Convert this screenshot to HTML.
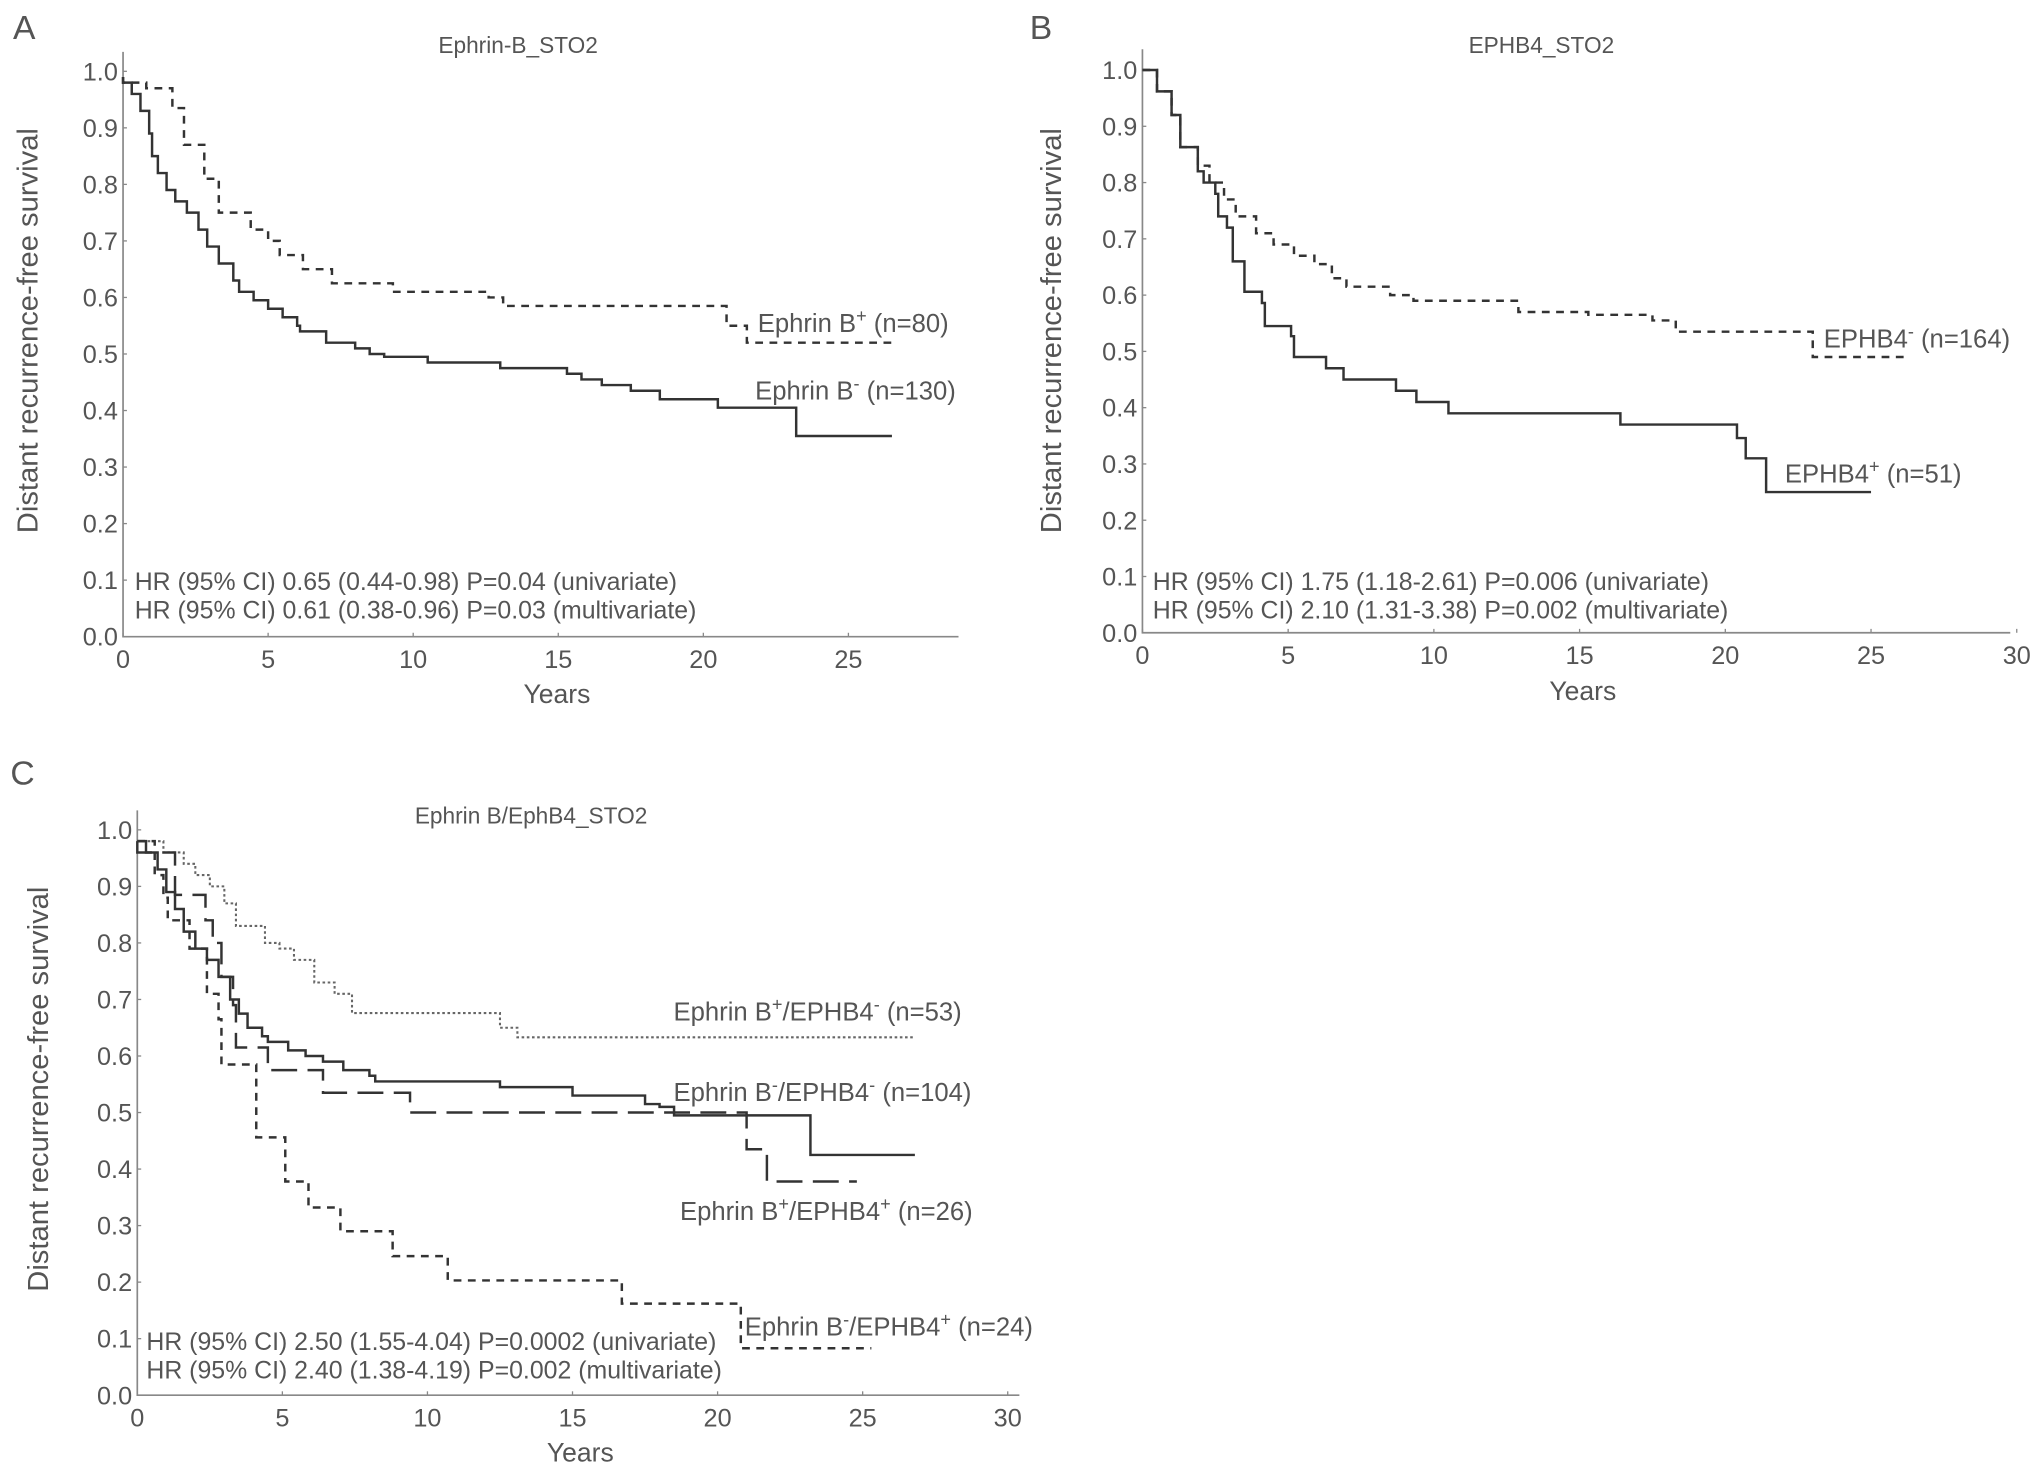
<!DOCTYPE html>
<html><head><meta charset="utf-8"><style>
html,body{margin:0;padding:0;background:#fff;}
svg{display:block;}
text{font-family:"Liberation Sans",Arial,sans-serif;fill:#555;}
</style></head><body>
<svg id="fig" width="2031" height="1473" viewBox="0 0 1568 1136" preserveAspectRatio="none" xmlns="http://www.w3.org/2000/svg"></svg>
<script>
// Each v[i] is the survival level on the interval ending at t[i]
// Panel A data
const aTimesPos=[0,0.8,1.7,2.1,2.8,3.3,4.4,5.0,5.4,6.2,7.2,9.3,12.6,13.1,20.8,21.5,26.5];
const aValsPos=[0.99,0.98,0.97,0.935,0.87,0.81,0.75,0.72,0.70,0.675,0.65,0.625,0.61,0.60,0.585,0.55,0.52];
const aTimesNeg=[0,0.3,0.6,0.9,1.0,1.2,1.5,1.8,2.2,2.6,2.9,3.3,3.8,4.0,4.5,5.0,5.5,6.0,6.1,7.0,8.0,8.5,9.0,10.5,13.0,15.3,15.8,16.5,17.5,18.5,20.5,23.2,26.5];
const aValsNeg=[0.99,0.98,0.96,0.93,0.89,0.85,0.82,0.79,0.77,0.75,0.72,0.69,0.66,0.63,0.61,0.595,0.58,0.565,0.55,0.54,0.52,0.51,0.50,0.495,0.485,0.475,0.465,0.455,0.445,0.435,0.42,0.405,0.355];
// Panel B data
const bTimesPos=[0,0.5,1.0,1.3,1.9,2.1,2.5,2.6,2.9,3.1,3.5,4.1,4.2,5.1,5.2,6.3,6.9,8.7,9.4,10.5,16.4,20.4,20.7,21.4,25.0];
const bValsPos=[1.0,1.0,0.962,0.92,0.863,0.82,0.80,0.78,0.74,0.72,0.66,0.606,0.586,0.545,0.527,0.49,0.47,0.45,0.43,0.41,0.39,0.37,0.346,0.31,0.25];
const bTimesNeg=[0,0.5,1.0,1.3,1.9,2.3,2.8,3.2,3.9,4.5,5.2,5.9,6.5,7.0,8.5,9.3,12.9,15.3,17.5,18.3,23.0,26.3];
const bValsNeg=[1.0,1.0,0.962,0.92,0.863,0.83,0.80,0.77,0.74,0.71,0.69,0.67,0.655,0.63,0.615,0.60,0.59,0.57,0.565,0.555,0.535,0.49];
// Panel C data
const cTimesPN=[0,0.9,1.6,2.0,2.5,3.0,3.4,4.4,4.9,5.4,6.1,6.8,7.4,12.5,13.1,26.8];
const cValsPN=[0.98,0.98,0.96,0.94,0.92,0.90,0.87,0.83,0.80,0.79,0.77,0.73,0.71,0.676,0.65,0.633];
const cTimesNN=[0,0.3,0.7,1.0,1.3,1.6,2.0,2.4,2.8,3.2,3.5,3.8,4.3,4.5,5.2,5.8,6.4,7.1,8.0,8.2,12.5,15.0,17.5,18.0,18.5,23.2,26.8];
const cValsNN=[0.98,0.98,0.96,0.93,0.89,0.86,0.82,0.79,0.77,0.74,0.70,0.675,0.65,0.635,0.625,0.61,0.60,0.59,0.575,0.565,0.555,0.545,0.53,0.515,0.51,0.495,0.425];
const cTimesPP=[0,1.05,1.3,2.35,2.6,2.9,3.3,3.4,4.5,6.4,9.4,21.0,21.7,24.8];
const cValsPP=[0.98,0.96,0.96,0.885,0.84,0.80,0.74,0.69,0.615,0.575,0.535,0.50,0.435,0.378];
const cTimesNP=[0,0.6,0.9,1.05,1.8,2.4,2.8,2.9,4.1,5.1,5.9,7.0,8.8,10.7,16.7,20.8,25.3];
const cValsNP=[0.98,0.98,0.92,0.88,0.84,0.79,0.71,0.665,0.585,0.456,0.378,0.332,0.29,0.246,0.203,0.162,0.083];
const yTicks=["0.0","0.1","0.2","0.3","0.4","0.5","0.6","0.7","0.8","0.9","1.0"];
const xTicksA=["0","5","10","15","20","25"];
const xTicksBC=["0","5","10","15","20","25","30"];

const NS="http://www.w3.org/2000/svg";
const svg=document.getElementById('fig');
function el(tag,attrs,parent){const e=document.createElementNS(NS,tag);for(const k in attrs)e.setAttribute(k,attrs[k]);(parent||svg).appendChild(e);return e;}
function txt(x,y,s,size,anchor,parent){const t=el('text',{x:x,y:y,'font-size':size,'text-anchor':anchor||'start'},parent);t.innerHTML=s;return t;}

function panel(cfg){
  const g=el('g',{});
  
  
  const X=t=>cfg.x0+cfg.px*t, Y=v=>cfg.y0-(cfg.y0-cfg.y1)*v;
  const ax=el('path',{d:`M${cfg.x0} ${cfg.yTop} V${cfg.y0} H${cfg.xEnd}`,stroke:'#888','stroke-width':1.3,fill:'none'},g);
  
  
  yTicks.forEach((lab,i)=>{const v=i/10;
    el('line',{x1:cfg.x0,x2:cfg.x0+3,y1:Y(v),y2:Y(v),stroke:'#888','stroke-width':1},g);
    const t=txt(cfg.x0-4,Y(v)+7,lab,19.5,'end',g);
    
    });
  cfg.xt.forEach(lab=>{const t0=+lab;
    el('line',{x1:X(t0),x2:X(t0),y1:cfg.y0,y2:cfg.y0-3,stroke:'#888','stroke-width':1},g);
    const t=txt(X(t0),cfg.y0+24,lab,19.5,'middle',g);
    
    });
  cfg.series.forEach(s=>{
    let d=`M${X(s.t[0])} ${Y(s.v[0])}`;
    for(let i=1;i<s.t.length;i++){d+=` V${Y(s.v[i])} H${X(s.t[i])}`;}
    const p=el('path',{d:d,stroke:s.c||'#333','stroke-width':s.w||1.9,fill:'none','stroke-dasharray':s.dash||'none'},g);
    
    
  });
  const ti=txt(cfg.titleX,cfg.titleY,cfg.title,17.5,'middle',g);
  
  
  const yl=txt(0,0,'Distant recurrence-free survival',22.5,'middle',g);
  yl.setAttribute('transform',`translate(${cfg.ylX},${cfg.ylY}) rotate(-90)`);
  
  
  const xl=txt(cfg.xlX,cfg.xlY,'Years',20.5,'middle',g);
  
  
  const pl=txt(cfg.lx,cfg.ly,cfg.letter,26,'start',g);
  
  
  cfg.hr.forEach((s,i)=>{const h=txt(cfg.hrX,cfg.hrY+22*i,s,19.2,'start',g);
    
    });
  cfg.labels.forEach(l=>{const h=txt(l[0],l[1],l[2],19.8,'start',g);
    
    });
}
const sup=s=>`<tspan baseline-shift="super" font-size="14">${s}</tspan>`;
panel({name:'panel-a',x0:95,px:22.4,y0:491,y1:55,yTop:40,xEnd:740,xt:xTicksA,
  series:[{name:'ephrin-b-positive-line',t:aTimesPos,v:aValsPos,dash:'6 5'},{name:'ephrin-b-negative-line',t:aTimesNeg,v:aValsNeg}],
  title:'Ephrin-B_STO2',titleX:400,titleY:41,ylX:29,ylY:255,xlX:430,xlY:542,letter:'A',lx:10,ly:30,
  hr:['HR (95% CI) 0.65 (0.44-0.98) P=0.04 (univariate)','HR (95% CI) 0.61 (0.38-0.96) P=0.03 (multivariate)'],hrX:104,hrY:455,
  labels:[[585,256,'Ephrin B'+sup('+')+' (n=80)'],[583,308,'Ephrin B'+sup('-')+' (n=130)']]});
panel({name:'panel-b',x0:882,px:22.5,y0:488,y1:54,yTop:38,xEnd:1552,xt:xTicksBC,
  series:[{name:'ephb4-negative-line',t:bTimesNeg,v:bValsNeg,dash:'6 5'},{name:'ephb4-positive-line',t:bTimesPos,v:bValsPos}],
  title:'EPHB4_STO2',titleX:1190,titleY:41,ylX:819,ylY:255,xlX:1222,xlY:540,letter:'B',lx:795,ly:30,
  hr:['HR (95% CI) 1.75 (1.18-2.61) P=0.006 (univariate)','HR (95% CI) 2.10 (1.31-3.38) P=0.002 (multivariate)'],hrX:890,hrY:455,
  labels:[[1408,268,'EPHB4'+sup('-')+' (n=164)'],[1378,372,'EPHB4'+sup('+')+' (n=51)']]});
panel({name:'panel-c',x0:106,px:22.4,y0:1076,y1:640,yTop:625,xEnd:787,xt:xTicksBC,
  series:[{name:'ephrinb-pos-ephb4-neg-line',t:cTimesPN,v:cValsPN,dash:'2 2',c:'#666',w:1.6},
          {name:'ephrinb-neg-ephb4-neg-line',t:cTimesNN,v:cValsNN},
          {name:'ephrinb-pos-ephb4-pos-line',t:cTimesPP,v:cValsPP,dash:'20 8'},
          {name:'ephrinb-neg-ephb4-pos-line',t:cTimesNP,v:cValsNP,dash:'6 5'}],
  title:'Ephrin B/EphB4_STO2',titleX:410,titleY:635,ylX:37,ylY:840,xlX:448,xlY:1127,letter:'C',lx:8,ly:605,
  hr:['HR (95% CI) 2.50 (1.55-4.04) P=0.0002 (univariate)','HR (95% CI) 2.40 (1.38-4.19) P=0.002 (multivariate)'],hrX:113,hrY:1041,
  labels:[[520,787,'Ephrin B'+sup('+')+'/EPHB4'+sup('-')+' (n=53)'],[520,849,'Ephrin B'+sup('-')+'/EPHB4'+sup('-')+' (n=104)'],
          [525,941,'Ephrin B'+sup('+')+'/EPHB4'+sup('+')+' (n=26)'],[575,1030,'Ephrin B'+sup('-')+'/EPHB4'+sup('+')+' (n=24)']]});
</script>
</body></html>
